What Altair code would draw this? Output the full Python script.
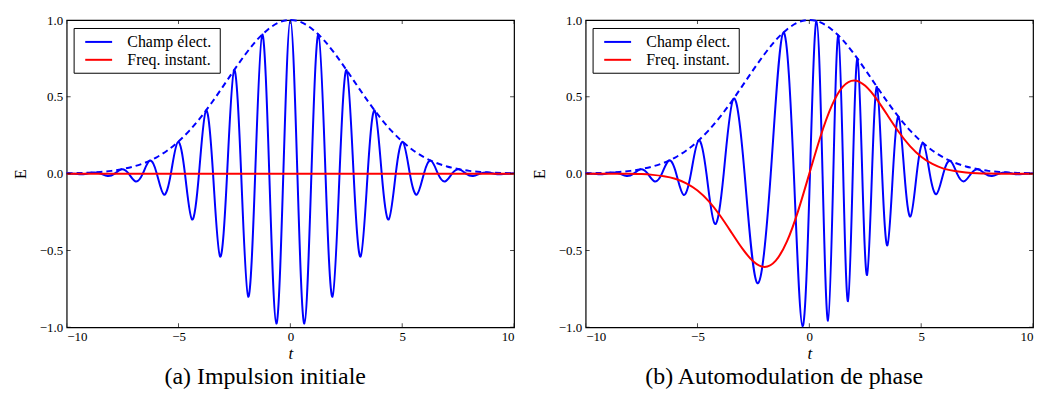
import altair as alt
import pandas as pd

# ---------------- data ----------------
S_FIELD = "Champ élect."
S_FREQ = "Freq.  instant."

X_TICKS = [-10, -5, 0, 5, 10]
Y_TICKS = [-1.0, -0.5, 0.0, 0.5, 1.0]

# (a) initial pulse: extrema and zero crossings of the field for t >= 0 (symmetric pulse)
A_T = [0.000, 0.314, 0.628, 0.942, 1.257, 1.571, 1.885, 2.199, 2.513, 2.827,
       3.142, 3.456, 3.770, 4.084, 4.398, 4.712, 5.027, 5.341, 5.655, 5.969,
       6.283, 6.597, 6.912, 7.226, 7.540, 7.854, 8.168, 8.482, 8.796, 9.111,
       9.425, 9.739, 10.000]
A_E = [1.000, 0.0, -0.976, 0.0, 0.906, 0.0, -0.801, 0.0, 0.674, 0.0,
       -0.540, 0.0, 0.411, 0.0, -0.298, 0.0, 0.206, 0.0, -0.136, 0.0,
       0.085, 0.0, -0.051, 0.0, 0.029, 0.0, -0.015, 0.0, 0.008, 0.0,
       -0.004, 0.0, 0.002]

# (b) self-phase modulation: extrema and zero crossings of the field
B_T = [-10.000, -9.739, -9.425, -9.111, -8.796, -8.482, -8.168, -7.854, -7.538, -7.223,
       -6.908, -6.590, -6.271, -5.950, -5.624, -5.293, -4.952, -4.599, -4.227, -3.828,
       -3.389, -2.894, -2.330, -1.724, -1.162, -0.692, -0.303, 0.029, 0.323, 0.590,
       0.837, 1.072, 1.297, 1.515, 1.729, 1.941, 2.153, 2.366, 2.581, 2.800,
       3.024, 3.253, 3.491, 3.735, 3.989, 4.251, 4.522, 4.802, 5.090, 5.384,
       5.683, 5.987, 6.295, 6.604, 6.916, 7.228, 7.541, 7.855, 8.169, 8.483,
       8.797, 9.111, 9.425, 9.739, 10.000]
B_E = [0.002, 0.0, -0.004, 0.0, 0.008, 0.0, -0.015, 0.0, 0.029, 0.0,
       -0.051, 0.0, 0.086, 0.0, -0.138, 0.0, 0.216, 0.0, -0.327, 0.0,
       0.488, 0.0, -0.712, 0.0, 0.919, 0.0, -0.994, 0.0, 0.994, 0.0,
       -0.957, 0.0, 0.900, 0.0, -0.830, 0.0, 0.749, 0.0, -0.660, 0.0,
       0.565, 0.0, -0.467, 0.0, 0.370, 0.0, -0.279, 0.0, 0.198, 0.0,
       -0.133, 0.0, 0.084, 0.0, -0.050, 0.0, 0.029, 0.0, -0.015, 0.0,
       0.008, 0.0, -0.004, 0.0, 0.002]

# Gaussian envelope (dashed), t >= 0, symmetric
ENV_T = [0.0, 0.5, 1.0, 1.5, 2.0, 2.5, 3.0, 3.5, 4.0, 4.5, 5.0,
         5.5, 6.0, 6.5, 7.0, 7.5, 8.0, 8.5, 9.0, 9.5, 10.0]
ENV_E = [1.000, 0.985, 0.939, 0.869, 0.779, 0.677, 0.570, 0.465, 0.368, 0.282, 0.210,
         0.151, 0.105, 0.071, 0.047, 0.030, 0.018, 0.011, 0.006, 0.004, 0.002]

# instantaneous frequency in (b), t >= 0, antisymmetric
FREQ_T = ENV_T
FREQ_E = [0.000, 0.242, 0.441, 0.566, 0.607, 0.572, 0.487, 0.379, 0.271, 0.179, 0.110,
          0.063, 0.033, 0.017, 0.008, 0.003, 0.001, 0.000, 0.000, 0.000, 0.000]

# instantaneous frequency in (a): zero everywhere
FREQ_A_T = [-10.0, 10.0]
FREQ_A_E = [0.0, 0.0]

CAPTIONS = ["(a) Impulsion initiale", "(b) Automodulation de phase"]

# ---------------- build tables ----------------
def mirror(ts, es, sign=1.0):
    t = [-v for v in reversed(ts[1:])] + list(ts)
    e = [sign * v for v in reversed(es[1:])] + list(es)
    return t, e

a_t, a_e = mirror(A_T, A_E)
env_t, env_e = mirror(ENV_T, ENV_E)
fb_t, fb_e = mirror(FREQ_T, FREQ_E, -1.0)

FONT = "Liberation Serif"
BLUE = "#0000ff"
RED = "#ff0000"
W, H = 450, 309


def panel(field_t, field_e, freq_t, freq_e, caption):
    lines_df = pd.DataFrame({
        "t": list(field_t) + list(freq_t),
        "E": list(field_e) + list(freq_e),
        "s": [S_FIELD] * len(field_t) + [S_FREQ] * len(freq_t),
    })
    env_df = pd.DataFrame({"t": env_t, "E": env_e})
    xt_df = pd.DataFrame({"t": X_TICKS * 2, "E": [-1.0] * 5 + [1.0] * 5})
    yt_df = pd.DataFrame({"t": [-10.0] * 5 + [10.0] * 5, "E": Y_TICKS * 2})

    xs = alt.Scale(domain=[-10, 10], nice=False, zero=False)
    ys = alt.Scale(domain=[-1, 1], nice=False, zero=False)
    xax = alt.Axis(values=X_TICKS, format="d", domain=False, ticks=False, grid=False,
                   labelFont=FONT, labelFontSize=13, labelPadding=3, labelColor="black",
                   title="t", titleFont=FONT, titleFontStyle="italic", titleFontWeight="normal",
                   titleFontSize=17, titlePadding=2, titleColor="black")
    yax = alt.Axis(values=Y_TICKS, format=".1f", domain=False, ticks=False, grid=False,
                   labelFont=FONT, labelFontSize=13, labelPadding=4, labelColor="black",
                   title="E", titleFont=FONT, titleFontWeight="normal", titleFontSize=16,
                   titlePadding=11, titleColor="black")
    X = alt.X("t:Q", scale=xs, axis=xax)
    Y = alt.Y("E:Q", scale=ys, axis=yax)

    env = alt.Chart(env_df).mark_line(color=BLUE, strokeWidth=2, strokeDash=[6, 4],
                                      interpolate="natural").encode(x=X, y=Y)
    lines = alt.Chart(lines_df).mark_line(strokeWidth=2, interpolate="natural").encode(
        x=X, y=Y,
        color=alt.Color("s:N", scale=alt.Scale(domain=[S_FIELD, S_FREQ], range=[BLUE, RED]),
                        legend=alt.Legend(title=None, orient="none", legendX=7, legendY=8,
                                          strokeColor="black", fillColor="white", padding=5,
                                          symbolType="M-0.29,0H3.09", symbolSize=256,
                                          symbolStrokeWidth=2, labelFont=FONT, labelFontSize=16,
                                          labelColor="black", labelOffset=31, rowPadding=1)),
    )
    xt = alt.Chart(xt_df).mark_tick(orient="vertical", size=8, thickness=1, color="black",
                                    clip=True).encode(x=X, y=Y)
    yt = alt.Chart(yt_df).mark_tick(orient="horizontal", size=8, thickness=1, color="black",
                                    clip=True).encode(x=X, y=Y)
    return alt.layer(env, lines, xt, yt).properties(
        width=W, height=H,
        title=alt.TitleParams(caption, orient="bottom", anchor="middle", frame="bounds",
                              font=FONT, fontSize=24, fontWeight="normal", color="black",
                              offset=4),
    )


pa = panel(a_t, a_e, FREQ_A_T, FREQ_A_E, CAPTIONS[0])
pb = panel(B_T, B_E, fb_t, fb_e, CAPTIONS[1])

chart = alt.hconcat(pa, pb, spacing=11).resolve_legend(color="independent").properties(
    padding={"left": 3, "top": 4, "right": 0, "bottom": 0},
    background="white",
).configure_view(stroke="black", strokeWidth=1.2).configure_title(font=FONT)

chart.save("out.html", embed_options={"renderer": "svg", "actions": False})
